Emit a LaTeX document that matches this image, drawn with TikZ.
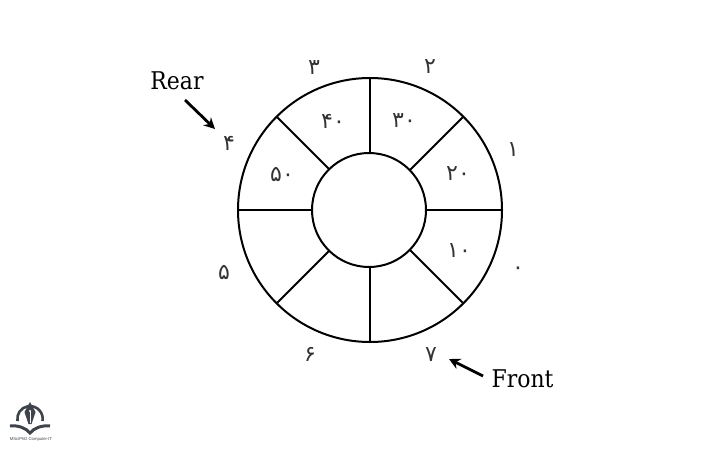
\documentclass[tikz,border=0pt]{standalone}
\usepackage{fontspec}
\setmainfont{DejaVu Serif Condensed}
\newfontfamily\digitfont[Script=Arabic]{DejaVu Sans}
\newfontfamily\logofont{Liberation Sans}
\definecolor{logogray}{HTML}{3F444A}
\usetikzlibrary{arrows.meta,calc}
\tikzset{
  ring/.style={draw=black,line width=2pt},
  spoke/.style={draw=black,line width=1.9pt},
  digit/.style={font=\digitfont\fontsize{22}{22}\selectfont,inner sep=0pt,text=black!80,yshift=-2pt},
  word/.style={font=\fontsize{24.4}{24.4}\selectfont,inner sep=0pt,text=black},
  pointer/.style={draw=black,line width=2.8pt,-{Stealth[length=11pt,width=11pt]}},
  logo/.style={draw=logogray,line width=2.6pt}
}
\begin{document}
\begin{tikzpicture}[x=1pt,y=-1pt]
\useasboundingbox (0,0) rectangle (727,452);
\coordinate (c) at (370,210);
\coordinate (ci) at (369,210);
% spokes (their inner ends are hidden by the white inner circle)
\foreach \a in {0,45,...,315}
  \draw[spoke] ($(c)+(\a:50)$) -- ($(c)+(\a:131)$);
\draw[ring] (c) circle[radius=132];
\draw[ring,fill=white] (ci) circle[radius=57];
% cell values
\node[digit] (v10) at (459,249) {۱۰};
\node[digit] (v20) at (458,172) {۲۰};
\node[digit] (v30) at (404,119) {۳۰};
\node[digit] (v40) at (333,119) {۴۰};
\node[digit] (v50) at (282,172) {۵۰};
% indices
\node[digit] (i0) at (518,269) {۰};
\node[digit] (i1) at (513,148) {۱};
\node[digit] (i2) at (430,65) {۲};
\node[digit] (i3) at (314,66) {۳};
\node[digit] (i4) at (229,141) {۴};
\node[digit] (i5) at (224,270) {۵};
\node[digit] (i6) at (310,352) {۶};
\node[digit] (i7) at (431,353) {۷};
% labels
\node[word] (rear) at (177,81) {Rear};
\node[word] (front) at (522.5,379) {Front};
\coordinate (rearTail) at (185,100);
\coordinate (rearHead) at (215,129);
\coordinate (frontTail) at (483,376);
\coordinate (frontHead) at (449,359);
\draw[pointer] (rearTail) -- (rearHead);
\draw[pointer] (frontTail) -- (frontHead);
% logo
\draw[logo] (17.5,421) arc[start angle=170,end angle=370,radius=12.7];
\fill[logogray] (30,402) -- (35.5,412) -- (31.5,424) -- (28.5,424) -- (24.5,412) -- cycle;
\fill[white] (30,411) circle[radius=1.1];
\draw[white,line width=.5pt] (30,411) -- (30,423);
\draw[logo,line width=3pt] (10,426) .. controls (18,425) and (26,428) .. (30,433) .. controls (34,428) and (42,425) .. (50,426);
\node[font=\logofont\fontsize{4.2}{4.2}\selectfont,inner sep=0pt,text=logogray] (brand) at (31,439) {MSc/PhD Computer-IT};
\end{tikzpicture}
\end{document}
